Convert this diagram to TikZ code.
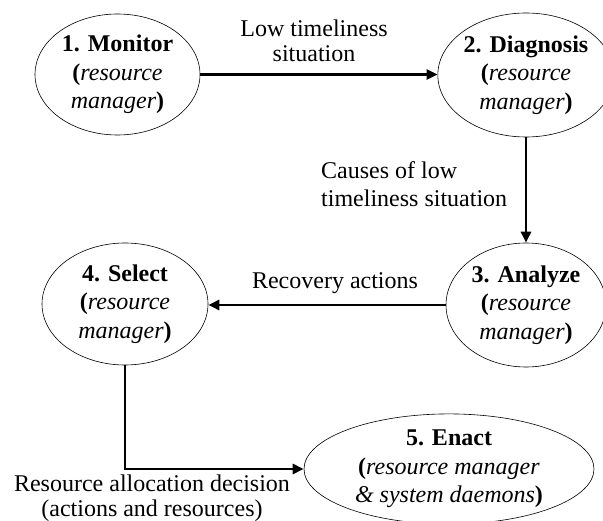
\documentclass[tikz,border=0pt]{standalone}
\usepackage{fontspec}
\setmainfont{Liberation Serif}
\usetikzlibrary{shapes.geometric,arrows.meta,calc}

\begin{document}
\begin{tikzpicture}[x=1pt,y=1pt,
  every node/.style={font=\fontsize{24}{28.5}\selectfont},
  stage/.style={draw, line width=0.6pt, ellipse, inner sep=0pt, align=center},
  flow/.style={line width=2.6pt, -{Triangle[length=11pt,width=10pt]}},
  lbl/.style={inner sep=0pt, font=\fontsize{24}{25.5}\selectfont}]
  \useasboundingbox (0,0) rectangle (603,-521);

  % stages of the recovery loop
  \node[stage, minimum width=165pt, minimum height=121pt] (mon) at (117.5,-74.5)
    {\textbf{1. Monitor}\\{\bfseries(}\textit{resource}\\\textit{manager}{\bfseries)}};
  \node[stage, minimum width=160pt, minimum height=124pt] (dia) at (526,-75)
    {\textbf{2. Diagnosis}\\{\bfseries(}\textit{resource}\\\textit{manager}{\bfseries)}};
  \node[stage, minimum width=160pt, minimum height=124pt] (ana) at (526,-305)
    {\textbf{3. Analyze}\\{\bfseries(}\textit{resource}\\\textit{manager}{\bfseries)}};
  \node[stage, minimum width=166pt, minimum height=122pt] (sel) at (125,-304)
    {\textbf{4. Select}\\{\bfseries(}\textit{resource}\\\textit{manager}{\bfseries)}};
  \node[stage, minimum width=290pt, minimum height=98pt] (ena) at (449,-469)
    {\textbf{5. Enact}\\{\bfseries(}\textit{resource manager}\\\textit{\& system daemons}{\bfseries)}};

  % connectors
  \draw[flow] (mon.east) -- (dia.west |- mon.east);
  \draw[flow] (dia.south) -- (ana.north);
  \draw[flow] (ana.west) -- (sel.east |- ana.west);
  \draw[flow] (sel.south) |- (ena.west);

  % connector labels
  \node[lbl, align=center] (l1) at (314,-41) {Low timeliness\\situation};
  \node[lbl, align=left, anchor=west, font=\fontsize{24}{28}\selectfont] (l2) at (321,-184) {Causes of low\\timeliness situation};
  \node[lbl] (l3) at (335,-283) {Recovery actions};
  \node[lbl, align=center] (l4) at (152,-498) {Resource allocation decision\\(actions and resources)};
\end{tikzpicture}
\end{document}
